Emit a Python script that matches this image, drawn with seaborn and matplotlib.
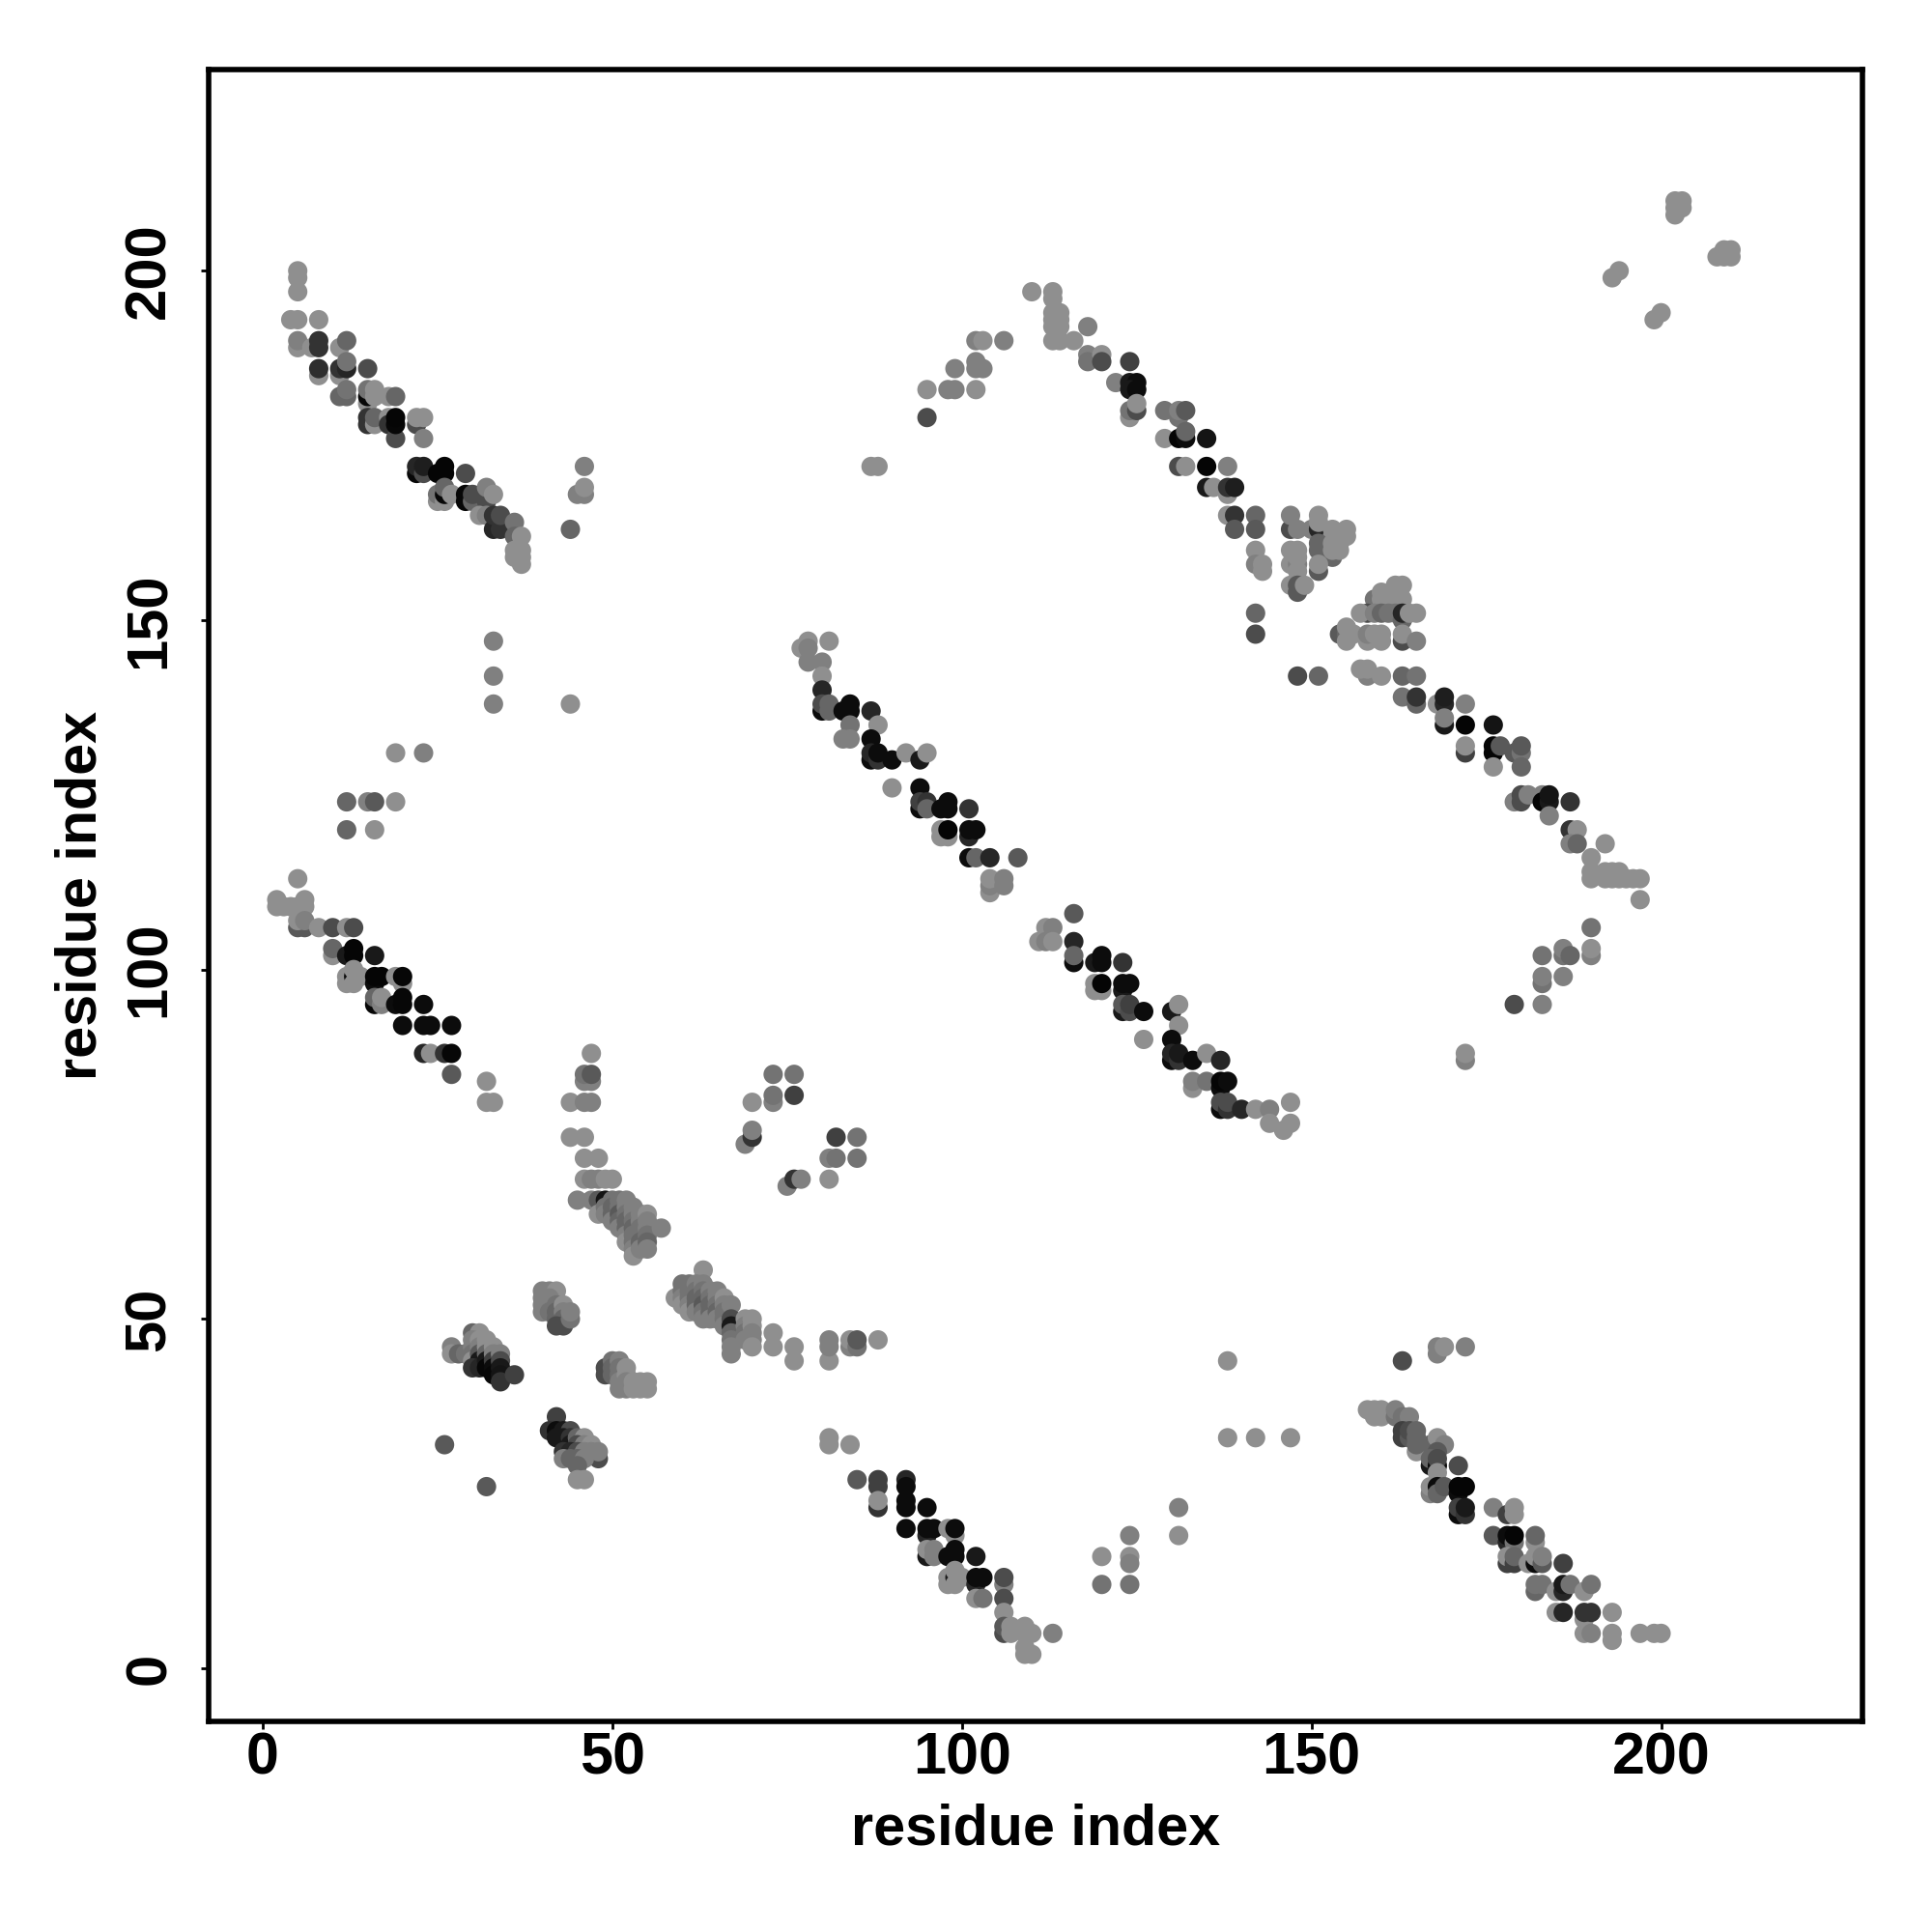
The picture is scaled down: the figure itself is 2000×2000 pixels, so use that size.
import matplotlib
matplotlib.use('Agg')
import matplotlib.pyplot as plt
import pandas as pd
import seaborn as sns

# shade levels (0 = black, .56 = lightest grey in the picture)
L = .56
M = .5

# residue i, residue j, grey level, one block at a time
top_left = [(5,200,L),(5,199,L),(5,197,L),(4,193,L),(5,193,L),(8,193,L),(5,189,L),(5,190,M),(7,189,L),
    (8,190,.2),(8,189,.2),(11,189,L),(12,190,.4),(8,185,L),(8,186,.18),(11,185,L),(11,186,.2),(12,186,.15),
    (12,187,.45),(15,186,.3),(11,182,.4),(12,182,.4),(12,183,.45),(15,181,L),(15,182,.03),(15,183,.45),
    (16,182,L),(16,183,L),(18,182,L),(19,182,.4),(15,179,.2),(15,178,.2),(16,178,L),(16,179,.4),(18,179,L),
    (18,178,.2),(19,176,.3),(19,178,.03),(19,179,.02),(22,178,.3),(22,179,L),(23,179,L),(23,176,.5),
    (22,171,.03),(22,172,.15),(23,171,.3),(23,172,.12),(25,171,.02),(26,171,.02),(26,172,.02),(29,171,.3),
    (25,167,L),(25,168,.45),(26,167,L),(26,168,.03),(26,169,.4),(27,168,L),(29,167,.03),(29,168,.03),
    (30,167,.4),(30,168,.3),(32,167,.3),(32,169,.5),(33,168,L),(31,165,L),(32,165,.5),(33,163,.15),
    (33,165,.2),(34,163,.2),(34,165,.3),(36,164,.45),(36,162,.4),(37,162,L),(36,160,L),(37,160,L),(36,159,L),
    (37,159,L),(37,158,L),(46,172,M),(45,168,M),(46,168,M),(46,169,L),(44,163,.4),(33,147,M),(33,142,M),
    (33,138,M),(44,138,L),(19,131,L),(23,131,M),(12,124,.4),(15,124,M),(16,124,.35),(19,124,L),(12,120,.4),
    (16,120,L)]

left_middle = [(5,113,L),(2,110,L),(2,109,L),(3,109,L),(4,109,L),(5,109,L),(6,109,L),(6,110,L),(5,106,.35),
    (6,106,.35),(5,107,L),(6,107,M),(8,106,L),(10,106,.3),(12,106,L),(13,106,.3),(10,102,L),(10,103,.4),
    (12,102,.1),(13,102,.02),(13,103,.02),(16,102,.1),(12,98,L),(12,99,L),(13,99,.05),(13,98,L),(13,100,L),
    (14,99,L),(16,98,.05),(16,99,.02),(17,99,.02),(19,99,L),(20,98,L),(20,99,.03),(16,95,.03),(16,96,.4),
    (17,95,M),(17,96,L),(19,95,.05),(20,95,.03),(20,96,.03),(23,95,.05),(20,92,.05),(23,92,.05),(24,92,.05),
    (27,92,.05),(23,88,.15),(24,88,L),(26,88,.2),(27,88,.03),(27,85,.35),(32,84,L),(32,81,L),(33,81,L)]

helix_upper = [(47,88,L),(46,84,M),(47,84,M),(46,85,.45),(47,85,.35),(44,81,L),(46,81,M),(47,81,M),
    (44,76,L),(46,76,L),(46,73,L),(48,73,L),(46,70,L),(47,70,M),(48,70,M),(49,70,L),(50,70,L),(45,67,M),
    (47,67,M),(48,67,.35),(49,67,.08),(48,65,L),(49,66,.45),(49,65,M),(50,67,.45),(50,66,.4),(50,65,.4),
    (50,64,M),(51,67,.45),(51,66,.45),(51,65,.35),(51,64,.4),(51,63,M),(52,67,M),(52,66,M),(52,65,.45),
    (52,64,.4),(52,63,.4),(52,62,M),(52,61,L),(53,66,M),(53,65,M),(53,64,.45),(53,63,.4),(53,62,.45),
    (53,61,.45),(53,60,M),(53,59,L),(54,65,M),(54,64,M),(54,63,.45),(54,62,.45),(54,61,.4),(54,60,M),
    (55,65,L),(55,64,M),(55,63,M),(55,62,.45),(55,61,.4),(55,60,M),(57,63,M)]

helix_lower = [(63,57,L),(59,53,L),(60,55,.45),(60,54,.45),(60,53,M),(60,52,L),(61,55,.45),(61,54,.45),
    (61,53,.45),(61,52,M),(61,51,L),(62,55,M),(62,54,.45),(62,53,.4),(62,52,.4),(62,51,M),(63,55,M),
    (63,54,.45),(63,53,.4),(63,52,.35),(63,51,.45),(63,50,M),(64,54,M),(64,53,.45),(64,52,.4),(64,51,.4),
    (64,50,M),(65,54,M),(65,53,M),(65,52,.45),(65,51,.4),(65,50,M),(66,53,L),(66,52,M),(66,51,.45),(66,50,.45),
    (66,49,M),(67,52,M),(67,50,.3),(67,49,.1),(67,48,.4),(67,47,.45),(67,46,M),(67,45,M),(69,50,L),(69,49,M),
    (69,48,.45),(69,47,M),(70,50,L),(70,49,L),(70,48,M),(70,47,.5),(70,46,L),(73,48,L),(73,46,L),(76,46,L),
    (76,44,L),(81,44,L),(81,46,M),(81,47,M),(84,46,M),(84,47,L),(85,46,.45),(85,47,.35),(88,47,L),
    (73,85,.45),(76,85,.45),(73,81,M),(73,82,.45),(76,82,.25),(70,81,L),(69,75,M),(70,76,.2),(70,77,M),
    (82,76,.25),(85,76,.45),(81,73,M),(82,73,.45),(85,73,.45),(81,70,L),(75,69,M),(76,70,.2),(77,70,M)]

small_blobs = [(27,46,M),(27,45,L),(28,45,.4),(29,45,.45),(30,48,.4),(31,48,L),(30,47,M),(30,46,M),(30,45,.45),
    (30,44,L),(31,47,L),(31,46,M),(31,45,.35),(31,44,.1),(30,43,.2),(31,43,.15),(32,47,L),(32,46,L),(32,45,.4),
    (32,44,.1),(32,43,.03),(33,46,L),(33,45,M),(33,44,.25),(33,43,.05),(33,42,.03),(34,45,M),(34,44,.3),
    (34,43,.1),(34,42,.08),(34,41,.2),(36,42,.25),
    (40,54,M),(41,54,M),(42,54,L),(40,53,M),(41,53,M),(40,52,M),(41,52,.5),(40,51,M),(41,51,.45),(42,52,.45),
    (42,51,.4),(42,50,.4),(43,52,L),(43,51,M),(43,50,.4),(43,49,.3),(42,49,.3),(44,50,.45),(44,51,M),
    (49,43,.3),(49,42,.3),(50,44,.45),(50,43,.4),(50,42,.4),(51,44,M),(51,43,.45),(51,42,.45),(51,41,M),
    (51,40,M),(52,43,L),(52,42,L),(52,41,M),(52,40,M),(53,41,L),(53,40,L),(54,41,L),(54,40,L),(55,41,L),(55,40,L),
    (42,36,.25),(41,34,.2),(42,34,.05),(43,34,.1),(44,34,.3),(42,33,.1),(43,33,.1),(44,33,.2),(44,32,.1),
    (45,33,.4),(46,33,L),(45,32,.3),(46,32,M),(47,32,L),(43,31,.2),(44,31,.15),(45,31,.3),(46,31,M),(47,31,M),
    (48,30,.3),(48,31,M),(43,30,M),(44,30,.4),(45,30,.4),(46,30,M),(45,29,.4),(45,27,L),(46,27,L),(26,32,.35),
    (32,26,.35),(81,33,L),(81,32,L),(84,32,L)]

lower_middle = [(85,27,.35),(88,27,.25),(88,26,.25),(88,23,.2),(88,24,L),(92,27,.15),(92,26,.05),(92,24,.05),
    (92,23,.05),(92,20,.05),(95,23,.05),(95,19,.15),(95,20,.05),(96,20,.05),(98,20,L),(99,19,L),(99,20,.05),
    (95,16,.1),(95,17,L),(96,16,M),(96,17,M),(98,16,.05),(99,17,.05),(99,16,.05),(102,16,.1),(98,13,L),(98,12,L),
    (99,13,.1),(99,14,L),(99,12,L),(100,13,L),(102,12,.15),(102,13,.05),(103,13,.05),(106,12,M),(106,13,.3),
    (106,10,.3),(102,10,L),(103,10,.45),(106,8,L),(106,5,.3),(106,6,.35),(107,6,L),(107,5,L),(109,6,L),(109,5,L),
    (110,5,L),(109,3,L),(109,2,L),(110,2,L),(113,5,M),(120,16,L),(120,12,.45),(124,19,M),(124,16,L),(124,15,M),
    (124,12,.45),(131,23,M),(131,19,L),(138,44,L),(138,33,L),(142,33,L),(147,33,L)]

lower_right = [(158,37,L),(159,37,L),(160,37,L),(159,36,L),(160,36,L),(162,36,.45),(162,37,M),(163,36,.45),
    (164,36,M),(163,34,.25),(163,33,.25),(164,33,.35),(164,34,.3),(165,31,L),(165,33,.4),(165,34,.4),(165,32,.4),
    (167,32,.4),(168,33,L),(169,32,M),(168,31,.35),(167,29,.1),(167,30,.4),(168,29,.05),(168,30,.3),(171,29,.3),
    (168,28,L),(167,25,M),(167,26,L),(168,26,.05),(168,25,.4),(169,26,.35),(171,25,.05),(171,26,.02),(172,26,.02),
    (171,22,.05),(171,23,.25),(172,22,.2),(172,23,.1),(176,23,M),(178,22,.25),(179,22,L),(179,23,L),(176,19,.35),
    (178,18,.15),(178,19,.05),(179,18,.45),(179,19,.02),(182,18,L),(182,19,.4),(178,15,.25),(178,16,L),(179,15,.25),
    (179,16,.4),(181,15,L),(182,15,.05),(182,16,L),(183,15,.35),(183,16,M),(186,15,.25),(182,11,.4),(182,12,.45),
    (183,12,.45),(185,11,L),(186,11,.15),(186,12,.1),(187,12,.45),(189,11,L),(190,12,.45),(185,8,L),(186,8,.15),
    (189,7,L),(189,8,.2),(190,8,.2),(193,8,L),(189,5,L),(190,5,M),(193,4,L),(193,5,L),(197,5,L),(199,5,L),(200,5,L),
    (163,44,.3),(168,45,M),(168,46,M),(169,46,L),(172,46,M)]

centre_band = [(78,147,L),(81,147,L),(77,146,L),(78,146,M),(78,144,M),(80,144,M),(80,142,L),(80,140,.15),
    (80,137,.05),(80,138,.3),(81,137,.4),(81,138,.4),(83,137,.05),(84,137,.05),(84,138,.05),(87,137,.15),
    (88,135,L),(84,135,.45),(83,133,M),(84,133,M),(87,133,.05),(87,130,.05),(87,131,.15),(88,130,.2),(88,131,.05),
    (90,130,.05),(92,131,L),(94,130,.1),(95,131,L),(90,126,L),(94,126,.05),(94,123,.05),(94,124,.25),(95,124,.2),
    (95,123,.4),(97,123,.05),(98,123,.05),(98,124,.05),(101,123,.2),(97,119,L),(97,120,L),(98,119,L),(98,120,.02),
    (101,119,.15),(101,120,.05),(102,120,.05),(101,116,.05),(102,116,.4),(104,116,.15),(108,116,.35),(104,111,L),
    (104,112,M),(104,113,L),(106,112,M),(106,113,M),(116,108,.35),(112,106,L),(113,106,M),(111,104,L),(112,104,M),
    (113,104,L),(116,104,.15),(116,101,.05),(116,102,.4),(119,101,.1),(120,102,.05),(120,101,.05),(123,101,.2),
    (119,97,L),(119,98,L),(120,97,L),(120,98,.02),(123,97,.1),(123,98,.05),(124,98,.05),(123,94,.1),(123,95,.35),
    (124,94,.3),(124,95,.25),(126,94,.05),(126,90,L),(130,94,.1),(131,95,L),(131,92,L),(130,90,.05),(130,87,.05),
    (130,88,.15),(131,87,.2),(131,88,.1),(133,87,.05),(135,88,L),(137,87,.15),(133,83,L),(133,84,M),(135,84,.45),
    (137,83,.05),(137,84,.02),(138,84,.05),(137,80,.05),(137,81,.3),(138,80,.2),(138,81,.3),(140,80,.15),(142,80,L),
    (144,80,M),(144,78,L),(146,77,L),(147,78,L),(147,81,L)]

upper_arc = [(87,172,L),(88,172,L),(95,179,.3),(95,183,L),(98,183,M),(99,183,M),(99,186,M),(102,183,L),(102,186,M),
    (103,186,M),(102,187,M),(102,190,M),(103,190,L),(106,190,M),(110,197,L),(113,197,L),(113,196,L),(113,194,L),
    (113,193,L),(113,192,L),(114,194,L),(114,193,L),(114,192,L),(113,190,L),(114,190,L),(116,190,L),(118,192,M),
    (118,188,M),(118,187,.45),(120,188,L),(120,187,.3),(122,184,M),(124,187,.25),(124,184,.1),(125,184,.05),
    (124,183,.1),(125,183,.05),(124,179,L),(124,180,.45),(125,180,.3),(125,181,L)]

upper_right = [(129,180,.45),(131,179,.45),(131,180,M),(132,180,.35),(129,176,L),(131,176,.02),(132,176,.05),
    (132,177,.4),(135,176,.08),(131,172,.3),(132,172,L),(135,172,.02),(138,172,M),(135,169,.1),(136,169,L),(138,168,L),
    (138,169,.2),(139,169,.12),(138,165,L),(139,165,.2),(139,163,.35),(142,165,.4),(142,163,.35),(142,160,L),(142,158,M),
    (143,158,L),(143,157,L),(147,163,.3),(147,165,M),(148,163,M),(150,163,M),(151,163,.15),(151,164,L),(151,165,L),
    (153,163,L),(155,163,L),(155,162,L),(154,162,L),(153,162,L),(151,161,.4),(151,160,.4),(153,159,.4),(153,161,L),
    (154,161,L),(153,160,L),(154,160,L),(147,160,L),(148,160,L),(147,158,L),(148,158,M),(148,159,L),(151,157,.35),
    (151,158,L),(148,157,L),(147,155,L),(148,154,.35),(148,155,.35),(149,155,L),(142,151,.4),(142,148,.3),
    (159,153,.45),(162,155,L),(163,155,L),(160,154,L),(160,153,L),(162,154,L),(162,153,L),(163,153,L),(158,151,.3),
    (157,151,L),(159,151,M),(160,151,.4),(161,151,.45),(162,151,.45),(163,150,.4),(163,151,.15),(164,151,L),(165,151,L),
    (154,148,.35),(155,148,.4),(155,147,L),(155,149,L),(156,148,L),(158,147,L),(158,148,M),(159,148,L),(160,147,L),
    (160,148,L),(163,147,.3),(163,148,L),(165,147,M),(158,142,M),(157,143,L),(158,143,L),(160,142,L),(163,142,.4),
    (165,142,.45),(148,142,.3),(151,142,.4),(163,139,.45),(165,138,.4),(165,139,.2),(168,138,L),(169,138,.15),
    (169,139,.12),(172,138,M),(169,135,.1),(169,136,M),(172,135,.02),(172,131,.25),(172,132,L)]

far_right = [(176,135,.08),(176,131,.02),(176,132,.02),(177,132,.35),(176,129,L),(179,131,.35),(180,131,.45),
    (180,132,.35),(180,129,.4),(179,124,M),(180,124,.3),(180,125,.3),(181,125,M),(183,125,M),(183,124,.02),
    (184,124,.1),(184,125,.08),(184,122,M),(187,124,.2),(187,120,.2),(188,120,L),(187,118,M),(188,118,.4),(192,118,L),
    (190,116,L),(190,114,L),(190,113,L),(192,114,L),(193,114,L),(194,114,L),(192,113,L),(193,113,L),(194,113,L),
    (195,113,L),(196,113,L),(197,113,L),(197,110,L),(190,106,.45),(190,102,M),(190,103,L),(186,102,.45),(186,103,M),
    (187,102,.4),(183,102,.45),(183,98,.45),(183,99,M),(186,99,M),(179,95,.3),(183,95,M),(172,87,M),(172,88,L),
    (202,210,L),(203,210,L),(202,209,L),(203,209,L),(202,208,L),(208,202,L),(209,203,L),(210,203,L),(209,202,L),
    (210,202,L),(193,199,L),(194,200,L),(199,193,L),(200,194,L)]

tick_values = [0, 50, 100, 150, 200]
axis_label = 'residue index'

blocks = (top_left + left_middle + helix_upper + helix_lower + small_blobs + lower_middle + lower_right
          + centre_band + upper_arc + upper_right + far_right)
df = pd.DataFrame(blocks, columns=['i', 'j', 'grey'])

sns.set_style('white')
plt.rcParams['font.family'] = ['Liberation Sans', 'DejaVu Sans']
plt.rcParams['font.weight'] = 'bold'

fig = plt.figure(figsize=(10, 10), dpi=200)
ax = fig.add_axes([0.108, 0.109, 0.856, 0.855])

sns.scatterplot(data=df, x='i', y='j', hue='grey', palette='gray', hue_norm=(0, 1),
                s=52, linewidth=0, legend=False, ax=ax)

ax.set_xlim(-7.74, 228.8)
ax.set_ylim(-7.6, 228.8)
ax.set_xticks(tick_values)
ax.set_yticks(tick_values)
ax.tick_params(axis='both', direction='out', length=2.8, width=1, color='black',
               labelcolor='black', bottom=True, left=True)
ax.tick_params(axis='x', pad=1, labelsize=22)
ax.tick_params(axis='y', pad=13.5, labelsize=21.5)
# y labels stand on their baseline, centred on the tick
plt.setp(ax.get_yticklabels(), rotation=90, ha='center', va='baseline', rotation_mode='anchor')
ax.set_xlabel(axis_label, fontsize=21.4, fontweight='bold', color='black', labelpad=6)
ax.set_ylabel(axis_label, fontsize=21.4, fontweight='bold', color='black', labelpad=6)
for s in ax.spines.values():
    s.set_visible(True)
    s.set_linewidth(2)
    s.set_color('black')

fig.savefig('out.png', dpi=200)
